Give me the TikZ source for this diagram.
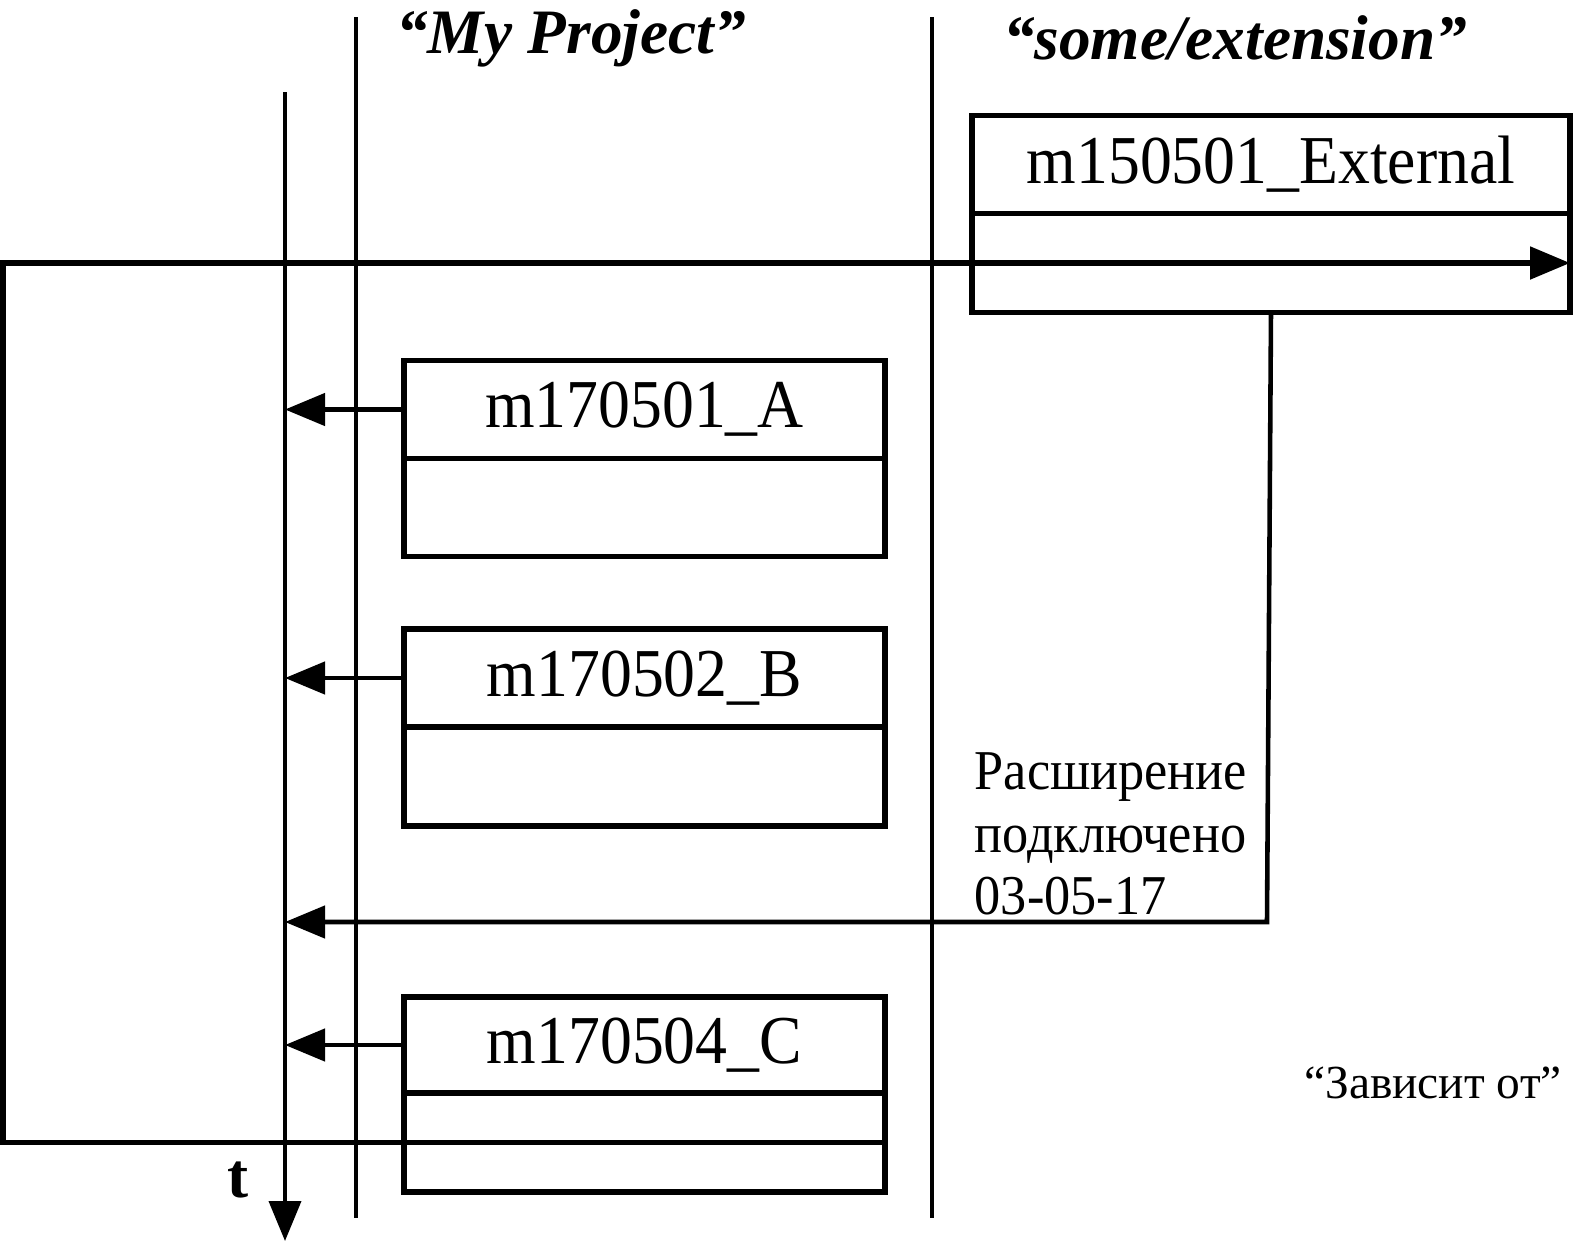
\documentclass[tikz,border=0pt]{standalone}
\usepackage{fontspec}
\setmainfont{Liberation Serif}[FakeStretch=0.93]
\newfontfamily\widefont{Liberation Serif}
\usetikzlibrary{arrows.meta,positioning}
\tikzset{lane/.style={draw, line width=1.1pt}}
\tikzset{lane title/.style={font=\widefont\fontsize{18}{21}\selectfont\bfseries\itshape}}
\tikzset{mig head/.style={draw, line width=1.5pt, outer sep=0pt, inner sep=0pt,
		minimum width=4.81cm, minimum height=0.98cm, font=\fontsize{19.5}{23}\selectfont}}
\tikzset{mig body/.style={draw, line width=1.5pt, outer sep=0pt, inner sep=0pt,
		minimum width=4.81cm, minimum height=0.98cm}}
\tikzset{applied/.style={line width=1.3pt, ->}}
\tikzset{depends/.style={line width=1.5pt, ->}}

\begin{document}
\begin{tikzpicture}[>={Triangle[length=4mm,width=3.2mm]}]
	\useasboundingbox (0,0) rectangle (15.75,-12.41);
	% time axis and lanes
	\coordinate (t_top) at (2.85,-0.92);
	\coordinate (t_end) at (2.85,-12.41);
	\coordinate (lane1_top) at (3.56,-0.17);
	\coordinate (lane1_end) at (3.56,-12.18);
	\coordinate (lane2_top) at (9.32,-0.17);
	\coordinate (lane2_end) at (9.32,-12.18);
	\draw[lane,->] (t_top) -- (t_end);
	\draw[lane] (lane1_top) -- (lane1_end);
	\draw[lane] (lane2_top) -- (lane2_end);
	\node[lane title] at (5.71,-0.38) (proj) {“My Project”};
	\node[lane title] at (12.35,-0.38) (ext) {“some/extension”};
	\node[font=\widefont\fontsize{18}{18}\selectfont\bfseries] at (2.38,-11.8) (t) {t};
	% migrations
	\node[mig head, minimum width=5.98cm] at (12.71,-1.645) (ext_head) {m150501\_External};
	\node[mig body, minimum width=5.98cm, minimum height=0.99cm, below=0pt of ext_head] (ext_body) {};
	\node[mig head] at (6.445,-4.095) (A) {m170501\_A};
	\node[mig body, below=0pt of A] (A_body) {};
	\node[mig head] at (6.445,-6.78) (B) {m170502\_B};
	\node[mig body, minimum height=0.99cm, below=0pt of B] (B_body) {};
	\node[mig head, minimum height=0.96cm] at (6.445,-10.45) (C) {m170504\_C};
	\node[mig body, minimum height=0.99cm, below=0pt of C] (C_body) {};
	\draw[applied] (A.west) -- (A.west -| t_top);
	\draw[applied] (B.west) -- (B.west -| t_top);
	\draw[applied] (C.west) -- (C.west -| t_top);
	% extension plugged in
	\coordinate (ext_turn) at (12.67,-9.22);
	\draw[applied] (ext_body.south) -- (ext_turn) -- (ext_turn -| t_top);
	\node[anchor=north west, align=left, inner sep=0pt, font=\fontsize{16}{17.8}\selectfont]
		at (9.74,-7.52) (plugged) {Расширение\\подключено\\03-05-17};
	% depends on
	\coordinate (loop_left) at (0.03,-11.43);
	\draw[depends] (C_body.east) -- (C_body.east -| loop_left) -- (ext_body.east -| loop_left) -- (ext_body.east);
	\node[font=\widefont\fontsize{13.5}{16}\selectfont] at (14.33,-10.83) (dep_label) {“Зависит от”};
\end{tikzpicture}
\end{document}
